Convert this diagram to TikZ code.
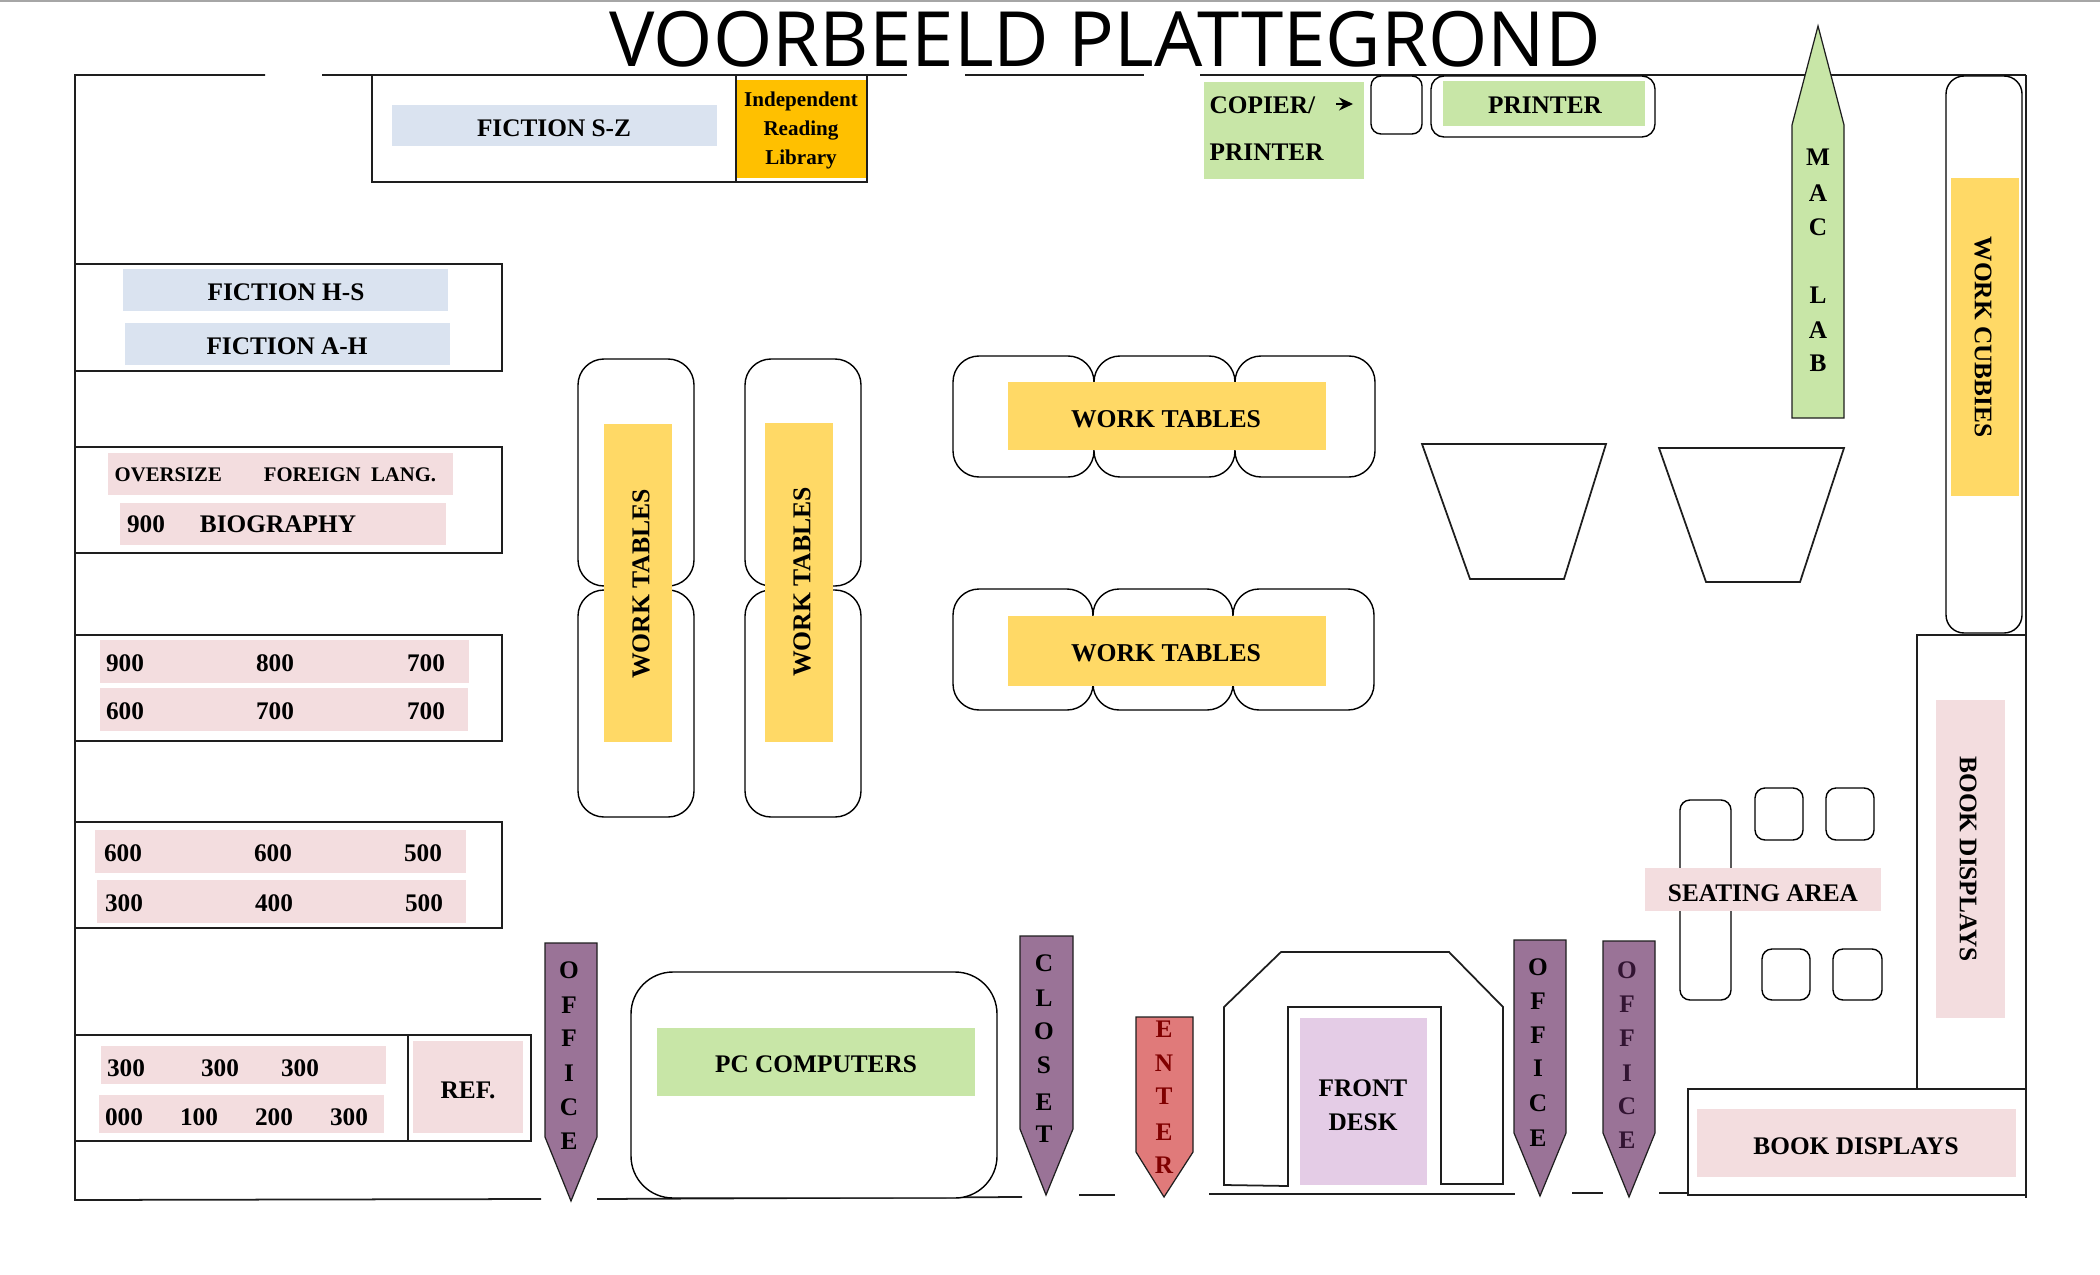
\documentclass[tikz,border=0pt]{standalone}
\usepackage{xcolor}
\usepackage{fontspec}
\usepackage{tikz}
\usetikzlibrary{arrows.meta, positioning}
\setmainfont{Liberation Serif}
\newfontfamily\titlefont{Open Sans}
\definecolor{PLblue}{RGB}{218,227,240}
\definecolor{PLpink}{RGB}{243,221,223}
\definecolor{PLyellow}{RGB}{255,217,102}
\definecolor{PLgreen}{RGB}{200,230,167}
\definecolor{PLorange}{RGB}{255,192,0}
\definecolor{PLpurple}{RGB}{154,115,151}
\definecolor{PLlilac}{RGB}{228,204,230}
\definecolor{PLred}{RGB}{224,122,122}
\definecolor{PLline}{RGB}{30,30,30}
\definecolor{PLdark}{RGB}{50,20,50}
\tikzset{
  wall/.style={draw=PLline, line width=0.5pt},
  shelf/.style={draw=PLline, line width=0.5pt, fill=white},
  tablebox/.style={draw=black, line width=0.4pt, fill=white},
  lbl/.style={inner sep=0pt, font=\fontsize{7.2}{8}\selectfont\bfseries},
  bigtbl/.style={inner sep=0pt, font=\fontsize{7.3}{8}\selectfont\bfseries},
  pencil/.style={draw=PLline, line width=0.35pt}
}
\begin{document}
\begin{tikzpicture}[x=0.1mm, y=-0.1mm]
  \useasboundingbox (0,0) rectangle (2100,1275);
  \draw[gray!70, line width=0.4pt] (0,1) -- (2100,1);
  \node[inner sep=0pt, anchor=base, font=\titlefont\fontsize{21.7}{24}\selectfont] (title) at (1105,67) {VOORBEELD PLATTEGROND};
  % outer walls
  \draw[wall] (265,75) -- (75,75) -- (75,1200) -- (541,1199);
  \foreach \xa/\ya/\xb/\yb in {322/75/907/75, 965/75/1144/75, 1200/75/2026/75, 2026/75/2026/1198,
    597/1199/1022/1197, 1079/1195/1115/1195, 1209/1194/1515/1194, 1572/1193/1603/1193, 1659/1193/2027/1193}{
    \draw[wall] (\xa,\ya) -- (\xb,\yb);
  }
  % shelves
  \foreach \xa/\ya/\xb/\yb in {372/75/736/182, 736/75/867/182, 75/264/502/371, 75/447/502/553, 75/635/502/741,
    75/822/502/928, 75/1035/408/1141, 408/1035/531/1141, 1917/635/2026/1089, 1688/1089/2026/1195}{
    \draw[shelf] (\xa,\ya) rectangle (\xb,\yb);
  }
  % tables
  \foreach \xa/\ya/\xb/\yb/\rad in {578/359/694/586/2.6, 578/590/694/817/2.6, 745/359/861/586/2.6, 745/590/861/817/2.6,
    953/356/1094/477/2.6, 1094/356/1235/477/2.6, 1235/356/1375/477/2.6, 953/589/1093/710/2.6, 1093/589/1233/710/2.6, 1233/589/1374/710/2.6,
    631/972/997/1198/4.2, 1371/76/1422/134/1, 1431/76/1655/137/1.3, 1946/76/2022/633/1.8,
    1680/800/1731/1000/1, 1755/788/1803/840/1, 1826/788/1874/840/1, 1762/949/1810/1000/1, 1833/949/1882/1000/1}{
    \draw[tablebox, rounded corners=\rad mm] (\xa,\ya) rectangle (\xb,\yb);
  }
  \draw[wall, fill=white] (1224,1185) -- (1224,1007) -- (1281,952) -- (1449,952) -- (1503,1007) -- (1503,1184)
    -- (1441,1184) -- (1441,1007) -- (1288,1007) -- (1288,1186) -- cycle;
  \draw[wall] (1422,444) -- (1606,444) -- (1564,579) -- (1470,579) -- cycle;
  \draw[wall] (1659,448) -- (1844,448) -- (1800,582) -- (1706,582) -- cycle;
  % coloured bars
  \foreach \xa/\ya/\xb/\yb/\barcol in {392/105/717/146/PLblue, 123/269/448/311/PLblue, 125/323/450/365/PLblue,
    737/80/866/178/PLorange, 108/453/453/495/PLpink, 120/503/446/545/PLpink,
    100/640/469/683/PLpink, 100/688/468/731/PLpink, 95/830/466/873/PLpink, 97/880/466/923/PLpink,
    101/1046/386/1084/PLpink, 99/1095/384/1133/PLpink, 413/1041/523/1133/PLpink,
    604/424/672/742/PLyellow, 765/423/833/742/PLyellow, 1008/382/1326/450/PLyellow, 1008/616/1326/686/PLyellow,
    1951/178/2019/496/PLyellow, 657/1028/975/1096/PLgreen, 1204/82/1364/179/PLgreen, 1443/81/1645/126/PLgreen,
    1300/1018/1427/1185/PLlilac, 1645/868/1881/911/PLpink, 1936/700/2005/1018/PLpink, 1697/1109/2016/1177/PLpink}{
    \fill[\barcol] (\xa,\ya) rectangle (\xb,\yb);
  }
  % pencils
  \foreach \xa/\xb/\xt/\ya/\yb/\yt/\pcol in {545/597/571/943/1137/1201/PLpurple, 1020/1073/1046/936/1129/1195/PLpurple,
    1136/1193/1164/1017/1152/1197/PLred, 1514/1566/1540/940/1133/1196/PLpurple, 1603/1655/1629/941/1133/1197/PLpurple}{
    \draw[pencil, fill=\pcol] (\xa,\ya) -- (\xb,\ya) -- (\xb,\yb) -- (\xt,\yt) -- (\xa,\yb) -- cycle;
  }
  \draw[pencil, fill=PLgreen] (1792,418) -- (1792,125) -- (1818,26) -- (1844,125) -- (1844,418) -- cycle;
  % letters of the pencils
  \foreach \ltr/\ly [count=\n] in {O/970, F/1005, F/1038, I/1073, C/1107, E/1141}{
    \node[lbl] (offa-\n) at (569,\ly) {\ltr};
  }
  \foreach \ltr/\ly [count=\n] in {C/963, L/998, O/1031, S/1065, E/1102, T/1134}{
    \node[lbl] (closet-\n) at (1044,\ly) {\ltr};
  }
  \foreach \ltr/\ly [count=\n] in {E/1029, N/1063, T/1096, E/1132, R/1165}{
    \node[lbl, text=red!50!black] (enter-\n) at (1164,\ly) {\ltr};
  }
  \foreach \ltr/\ly [count=\n] in {O/967, F/1001, F/1035, I/1068, C/1103, E/1138}{
    \node[lbl] (offb-\n) at (1538,\ly) {\ltr};
  }
  \foreach \ltr/\ly [count=\n] in {O/970, F/1004, F/1038, I/1073, C/1106, E/1140}{
    \node[lbl, text=PLdark] (offc-\n) at (1627,\ly) {\ltr};
  }
  \foreach \ltr/\ly [count=\n] in {M/157, A/193, C/227, L/295, A/330, B/363}{
    \node[lbl] (mac-\n) at (1818,\ly) {\ltr};
  }
  % labels
  \foreach \tx/\ty/\ttext [count=\n] in {554/128/FICTION S-Z, 286/292/FICTION H-S, 287/346/FICTION A-H,
    146/524/900, 278/524/BIOGRAPHY,
    125/663/900, 275/663/800, 426/663/700, 125/711/600, 275/711/700, 426/711/700,
    123/853/600, 273/853/600, 423/853/500, 124/903/300, 274/903/400, 424/903/500,
    126/1068/300, 220/1068/300, 300/1068/300, 124/1117/000, 199/1117/100, 274/1117/200, 349/1117/300,
    468/1090/REF., 816/1064/PC COMPUTERS, 1545/105/PRINTER, 1363/1088/FRONT, 1363/1122/DESK,
    1763/893/SEATING AREA, 1856/1146/BOOK DISPLAYS}{
    \node[lbl] (txt-\n) at (\tx,\ty) {\ttext};
  }
  \foreach \tx/\ty/\ttext [count=\n] in {801/101/Independent, 801/131/Reading, 801/159/Library}{
    \node[inner sep=0pt, font=\fontsize{6}{7}\selectfont\bfseries] (indep-\n) at (\tx,\ty) {\ttext};
  }
  \node[inner sep=0pt, anchor=west, font=\fontsize{5.9}{7}\selectfont\bfseries] (oversize) at (114,475) {OVERSIZE};
  \node[inner sep=0pt, font=\fontsize{5.9}{7}\selectfont\bfseries] (foreign) at (350,475) {FOREIGN\ \ LANG.};
  \node[lbl, anchor=west] (copier) at (1209,105) {COPIER/};
  \node[lbl, anchor=west] (copierb) at (1209,152) {PRINTER};
  \coordinate (arr-a) at (1336,104);
  \coordinate (arr-b) at (1353,104);
  \draw[-{Stealth[length=1.4mm, width=1.3mm]}, line width=0.5pt] (arr-a) -- (arr-b);
  \node[bigtbl] (tblh-1) at (1166,419) {WORK TABLES};
  \node[bigtbl] (tblh-2) at (1166,653) {WORK TABLES};
  \node[bigtbl, rotate=90] (tblv-1) at (641,584) {WORK TABLES};
  \node[bigtbl, rotate=90] (tblv-2) at (802,582) {WORK TABLES};
  \node[lbl, rotate=-90] (cubbies) at (1983,337) {WORK CUBBIES};
  \node[lbl, rotate=-90] (displays) at (1968,859) {BOOK DISPLAYS};
\end{tikzpicture}
\end{document}
